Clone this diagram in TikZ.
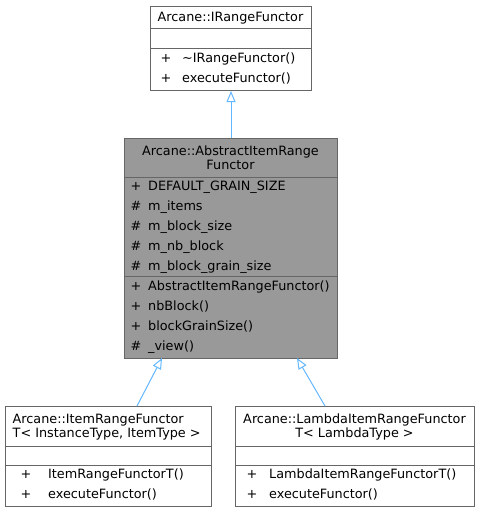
\documentclass[tikz,border=0pt]{standalone}
\usepackage{fontspec}
\setmainfont{DejaVu Sans}
\usepackage{xcolor}
\usetikzlibrary{arrows.meta}
\definecolor{edgeblue}{HTML}{63B8FF}
\definecolor{boxline}{HTML}{666666}
\definecolor{basefill}{HTML}{999999}

\begin{document}
\begin{tikzpicture}[x=1pt,y=-1pt,
    cls/.style={draw=boxline, line width=1pt, fill=white, anchor=north west, inner sep=0pt},
    base/.style={cls, fill=basefill},
    sep/.style={draw=boxline, line width=1pt},
    ttl/.style={align=center, inner sep=0pt, font=\fontsize{12.8}{14}\selectfont},
    vis/.style={anchor=base, inner sep=0pt, font=\fontsize{12.8}{14}\selectfont},
    mem/.style={anchor=base west, inner sep=0pt, font=\fontsize{12.8}{14}\selectfont},
    inh/.style={draw=edgeblue, line width=1pt, -{Triangle[open, length=11pt, width=9pt]}}
]
  \useasboundingbox[fill=white] (0,0) rectangle (479,512);
  % Class boxes
  \node (IRF)  [cls,  minimum width=161pt, minimum height=84pt]  at (150,6)   {};
  \node (AIRF) [base, minimum width=213pt, minimum height=220pt] at (124,138) {};
  \node (IRFT) [cls,  minimum width=206pt, minimum height=100pt] at (5,406)   {};
  \node (LIRF) [cls,  minimum width=239pt, minimum height=100pt] at (235,406) {};
  % Compartments
  \draw[sep] (150,28)  -- (311,28);
  \draw[sep] (150,48)  -- (311,48);
  \draw[sep] (124,177) -- (337,177);
  \draw[sep] (124,276) -- (337,276);
  \draw[sep] (5,446)   -- (211,446);
  \draw[sep] (5,465)   -- (211,465);
  \draw[sep] (235,446) -- (474,446);
  \draw[sep] (235,465) -- (474,465);
  % Titles
  \node[ttl] (IRFname)  at (230.5,18)  {Arcane::IRangeFunctor};
  \node[ttl] (AIRFname) at (230.5,158) {Arcane::AbstractItemRange\\Functor};
  \node[ttl, align=left, anchor=west] (IRFTname) at (12.5,427) {Arcane::ItemRangeFunctor\\T< InstanceType, ItemType >};
  \node[ttl] (LIRFname) at (354.5,427) {Arcane::LambdaItemRangeFunctor\\T< LambdaType >};
  % Members
  \foreach \y/\s/\t [count=\i] in {62/+/\textasciitilde IRangeFunctor(), 82/+/executeFunctor()} {
    \node[vis] (irfv\i) at (166,\y) {\s};
    \node[mem] (irfm\i) at (182,\y) {\t};
  }
  \foreach \y/\s/\t [count=\i] in {190/+/DEFAULT\_GRAIN\_SIZE, 210/\#/m\_items,
      230/\#/m\_block\_size, 250/\#/m\_nb\_block, 270/\#/m\_block\_grain\_size,
      290/+/AbstractItemRangeFunctor(), 310/+/nbBlock(), 330/+/blockGrainSize(),
      350/\#/\_view()} {
    \node[vis] (airfv\i) at (136,\y) {\s};
    \node[mem] (airfm\i) at (148,\y) {\t};
  }
  \foreach \y/\t [count=\i] in {478/ItemRangeFunctorT(), 498/executeFunctor()} {
    \node[vis] (irftv\i) at (26,\y) {+};
    \node[mem] (irftm\i) at (48,\y) {\t};
  }
  \foreach \y/\t [count=\i] in {478/LambdaItemRangeFunctorT(), 498/executeFunctor()} {
    \node[vis] (lirfv\i) at (252,\y) {+};
    \node[mem] (lirfm\i) at (269,\y) {\t};
  }
  % Inheritance
  \coordinate (IRFTtop)  at (137,406);
  \coordinate (LIRFtop)  at (325,406);
  \coordinate (AIRFleft) at (162,358);
  \coordinate (AIRFright) at (297,358);
  \draw[inh] (AIRF.north) -- (IRF.south);
  \draw[inh] (IRFTtop) -- (AIRFleft);
  \draw[inh] (LIRFtop) -- (AIRFright);
\end{tikzpicture}
\end{document}
